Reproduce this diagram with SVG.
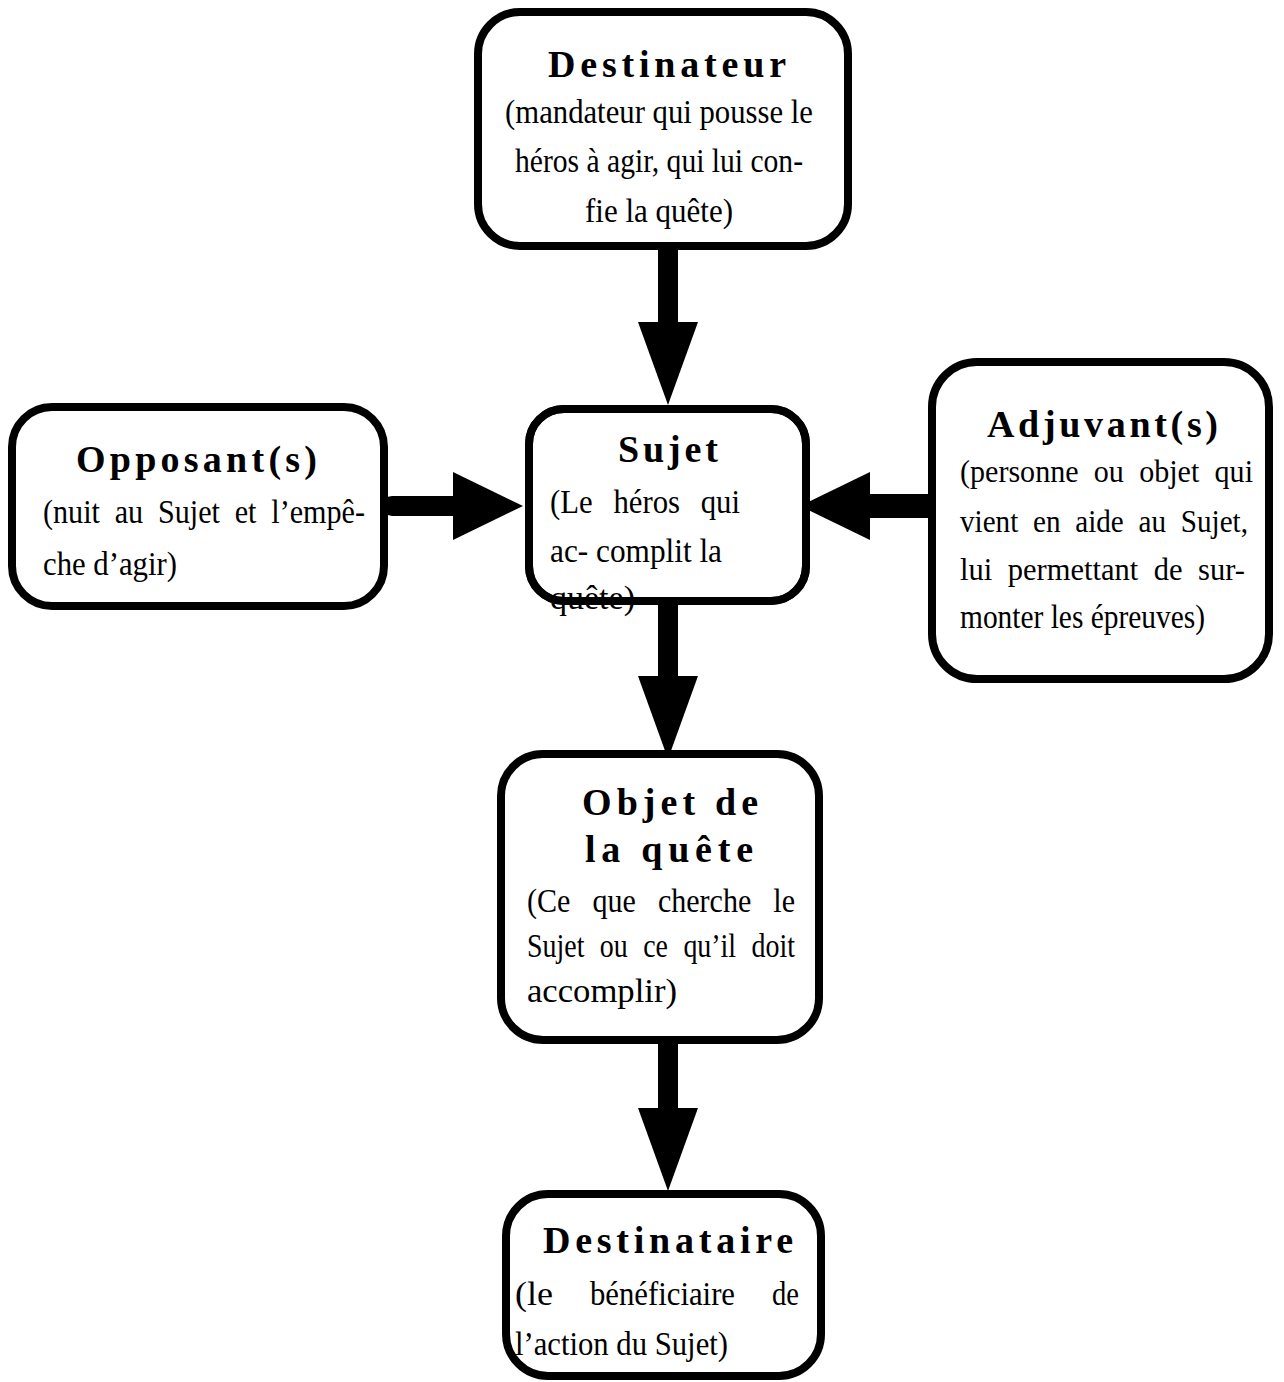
<svg xmlns="http://www.w3.org/2000/svg" width="1284" height="1382" viewBox="0 0 1284 1382">
<style>
  .box { fill: #fff; stroke: #000; stroke-width: 8; }
  .frame { fill: none; stroke: #000; stroke-width: 8; }
  .title { font-family: "Liberation Serif", "Times New Roman", serif; font-weight: bold; font-size: 38px; fill: #000; }
  .body { font-family: "Liberation Serif", "Times New Roman", serif; font-size: 33px; fill: #000; }
  .adj { font-size: 31px; }
  .shaft { fill: none; stroke: #000; stroke-width: 20; stroke-linecap: round; }
</style>
<defs>
  <marker id="headV" markerUnits="userSpaceOnUse" markerWidth="84" markerHeight="62" refX="0" refY="30" orient="auto" overflow="visible">
    <path d="M0,0 L83,30 L0,60 Z" fill="#000"/>
  </marker>
  <marker id="headH" markerUnits="userSpaceOnUse" markerWidth="72" markerHeight="70" refX="0" refY="34" orient="auto" overflow="visible">
    <path d="M0,0 L70,34 L0,68 Z" fill="#000"/>
  </marker>
</defs>
<rect width="1284" height="1382" fill="#fff"/>

<g id="connectors">
  <path class="shaft" d="M668,250 L668,322" marker-end="url(#headV)"/>
  <path class="shaft" d="M668,605 L668,676" marker-end="url(#headV)"/>
  <path class="shaft" d="M668,1040 L668,1108" marker-end="url(#headV)"/>
  <path class="shaft" d="M392,506 L453,506" marker-end="url(#headH)"/>
  <path d="M932,506 L870,506" fill="none" stroke="#000" stroke-width="24" marker-end="url(#headH)"/>
</g>

<g id="destinateur">
  <rect class="box" x="478" y="12" width="370" height="234" rx="42"/>
  <text class="title" x="548" y="77" textLength="238" lengthAdjust="spacing">Destinateur</text>
  <text class="body" x="505" y="123" textLength="308" lengthAdjust="spacingAndGlyphs">(mandateur  qui pousse le</text>
  <text class="body" x="515" y="172" textLength="288" lengthAdjust="spacingAndGlyphs">héros à agir, qui lui con-</text>
  <text class="body" x="585" y="222" textLength="148" lengthAdjust="spacingAndGlyphs">fie la quête)</text>
</g>

<g id="opposant">
  <rect class="box" x="12" y="407" width="372" height="199" rx="40"/>
  <text class="title" x="76" y="472" textLength="241" lengthAdjust="spacing">Opposant(s)</text>
  <text class="body" x="43" y="523" textLength="322" lengthAdjust="spacingAndGlyphs" word-spacing="8">(nuit au Sujet et l’empê-</text>
  <text class="body" x="43" y="575" textLength="134" lengthAdjust="spacingAndGlyphs">che d’agir)</text>
</g>

<g id="sujet">
  <rect class="box" x="529" y="409" width="277" height="192" rx="35"/>
  <text class="title" x="618" y="462" textLength="100" lengthAdjust="spacing">Sujet</text>
  <text class="body" x="550" y="513" textLength="190" lengthAdjust="spacingAndGlyphs" word-spacing="14">(Le héros qui</text>
  <text class="body" x="550" y="562" textLength="172" lengthAdjust="spacingAndGlyphs">ac- complit la</text>
  <text class="body" x="550" y="609" textLength="85" lengthAdjust="spacingAndGlyphs">quête)</text>
  <rect class="frame" x="529" y="409" width="277" height="192" rx="35"/>
</g>

<g id="adjuvant">
  <rect class="box" x="932" y="362" width="337" height="317" rx="45"/>
  <text class="title" x="987" y="437" textLength="231" lengthAdjust="spacing">Adjuvant(s)</text>
  <text class="body adj" x="960" y="482" textLength="293" lengthAdjust="spacingAndGlyphs" word-spacing="8">(personne ou objet qui</text>
  <text class="body adj" x="960" y="532" textLength="288" lengthAdjust="spacingAndGlyphs" word-spacing="8">vient en aide au Sujet,</text>
  <text class="body adj" x="960" y="580" textLength="285" lengthAdjust="spacingAndGlyphs" word-spacing="8">lui permettant de sur-</text>
  <text class="body" x="960" y="628" textLength="245" lengthAdjust="spacingAndGlyphs">monter les épreuves)</text>
</g>

<g id="objet">
  <rect class="box" x="501" y="754" width="318" height="286" rx="42"/>
  <text class="title" x="582" y="815" textLength="176" lengthAdjust="spacing">Objet de</text>
  <text class="title" x="585" y="862" textLength="168" lengthAdjust="spacing">la quête</text>
  <text class="body" x="527" y="912" textLength="268" lengthAdjust="spacingAndGlyphs" word-spacing="16">(Ce que cherche le</text>
  <text class="body" x="527" y="957" textLength="268" lengthAdjust="spacingAndGlyphs" word-spacing="10">Sujet ou ce qu’il doit</text>
  <text class="body" x="527" y="1002" textLength="150" lengthAdjust="spacingAndGlyphs">accomplir)</text>
</g>

<g id="destinataire">
  <rect class="box" x="506" y="1194" width="315" height="182" rx="42"/>
  <text class="title" x="543" y="1253" textLength="250" lengthAdjust="spacing">Destinataire</text>
  <text class="body" x="515" y="1305" textLength="38" lengthAdjust="spacingAndGlyphs">(le</text>
  <text class="body" x="590" y="1305" textLength="145" lengthAdjust="spacingAndGlyphs">bénéficiaire</text>
  <text class="body" x="772" y="1305" textLength="27" lengthAdjust="spacingAndGlyphs">de</text>
  <text class="body" x="515" y="1355" textLength="213" lengthAdjust="spacingAndGlyphs">l’action du Sujet)</text>
</g>
</svg>
